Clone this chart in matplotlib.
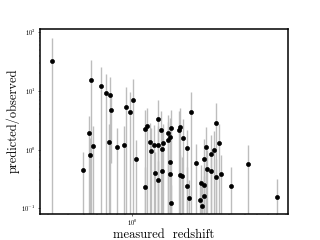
import numpy as np
import matplotlib
matplotlib.use('Agg')
import matplotlib.pyplot as plt

plt.rcParams['font.family'] = 'serif'
plt.rcParams['font.serif'] = ['cmr10', 'DejaVu Serif']
plt.rcParams['mathtext.fontset'] = 'cm'
plt.rcParams['axes.formatter.use_mathtext'] = True

# measured redshift, predicted/observed ratio and upper end of its error bar
z_meas = [0.315, 0.492, 0.541, 0.543, 0.551, 0.572, 0.642, 0.686, 0.713, 0.723,
          0.734, 0.80, 0.888, 0.91, 0.967, 1.015, 1.06, 1.205, 1.205, 1.24,
          1.29, 1.31, 1.36, 1.39, 1.44, 1.445, 1.45, 1.51, 1.54, 1.54,
          1.56, 1.68, 1.68, 1.71, 1.72, 1.72, 1.74, 1.75, 1.96, 1.99,
          1.99, 2.05, 2.07, 2.19, 2.2, 2.25, 2.32, 2.5, 2.65, 2.69,
          2.71, 2.78, 2.79, 2.8, 2.87, 2.93, 3.09, 3.1, 3.24, 3.33,
          3.31, 3.46, 3.57, 4.09, 5.22, 7.9]
ratio = [32.3, 0.454, 1.91, 0.82, 15.5, 1.13, 12.2, 9.3, 1.34, 8.4,
         4.8, 1.11, 1.2, 5.3, 4.43, 7.1, 0.70, 0.23, 2.29, 2.55,
         1.37, 0.94, 1.2, 0.40, 1.2, 3.27, 0.306, 2.15, 1.03, 0.44,
         1.32, 1.91, 1.45, 1.67, 0.61, 0.38, 2.33, 0.122, 2.15, 2.42,
         0.364, 0.354, 1.59, 0.235, 1.07, 0.148, 4.31, 0.585, 0.136, 0.265,
         0.111, 0.245, 0.69, 0.16, 1.11, 0.467, 0.43, 0.84, 0.975, 0.34,
         2.79, 1.3, 0.38, 0.235, 0.57, 0.156]
ratio_hi = [81, 0.92, 3.8, 1.6, 34, 2.55, 26, 19.7, 2.7, 17,
            9.0, 2.35, 2.5, 11.6, 9.5, 16, 1.45, 0.5, 4.8, 5.2,
            2.9, 2.3, 2.6, 0.9, 2.5, 7.0, 0.65, 4.5, 2.2, 0.95,
            2.7, 3.9, 3.0, 3.5, 1.3, 0.8, 4.8, 0.25, 4.6, 5.1,
            0.8, 0.75, 3.3, 0.5, 2.2, 0.3, 9.7, 1.25, 0.3, 0.55,
            0.25, 0.5, 1.5, 0.35, 2.4, 1.0, 0.9, 1.8, 2.1, 0.7,
            6.2, 2.7, 0.8, 0.5, 1.2, 0.31]

z_meas = np.array(z_meas)
ratio = np.array(ratio)
err = np.array(ratio_hi) - ratio

fig = plt.figure(figsize=(6.4, 4.8), dpi=50)
ax = fig.add_subplot(111)
ax.errorbar(z_meas, ratio, yerr=err, fmt='o', color='k', ms=5.8,
            ecolor='0.74', elinewidth=2.0, capsize=0)
ax.set_xscale('log')
ax.set_yscale('log')
ax.set_xlim(0.267, 9.3)
ax.set_ylim(0.081, 115)
ax.set_xlabel('measured  redshift', fontsize=18, labelpad=1)
ax.set_ylabel('predicted/observed', fontsize=18, labelpad=2)
ax.tick_params(labelsize=9.5, pad=3)
for s in ax.spines.values():
    s.set_linewidth(2.2)

fig.savefig('out.png', dpi=50)
